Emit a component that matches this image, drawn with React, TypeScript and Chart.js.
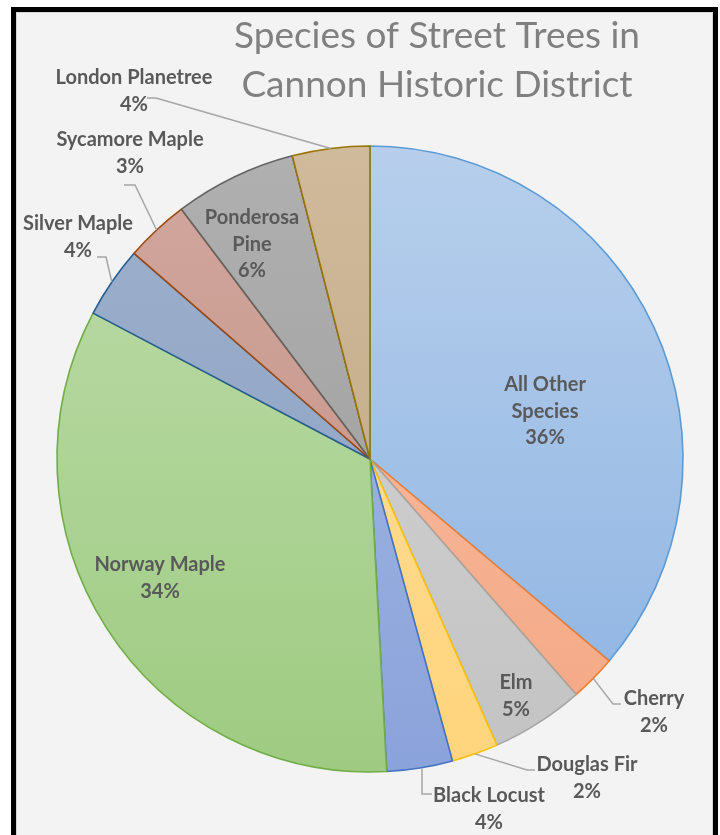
import React, { useEffect, useRef } from "react";
import { Chart, registerables } from "chart.js";

Chart.register(...registerables);

// ---------- data ----------
const TITLE_LINES = ["Species of Street Trees in", "Cannon Historic District"];
const SPECIES = [
  "All Other Species",
  "Cherry",
  "Elm",
  "Douglas Fir",
  "Black Locust",
  "Norway Maple",
  "Silver Maple",
  "Sycamore Maple",
  "Ponderosa Pine",
  "London Planetree",
];
const SHARES = [36.2, 2.4, 4.8, 2.4, 3.4, 33.6, 3.7, 3.3, 6.3, 4.0];
const PERCENT_LABELS = ["36%", "2%", "5%", "2%", "4%", "34%", "4%", "3%", "6%", "4%"];
const NAME_LINES = [
  ["All Other", "Species"],
  ["Cherry"],
  ["Elm"],
  ["Douglas Fir"],
  ["Black Locust"],
  ["Norway Maple"],
  ["Silver Maple"],
  ["Sycamore Maple"],
  ["Ponderosa", "Pine"],
  ["London Planetree"],
];

// ---------- styles ----------
const FILL_TOP = [
  "#b7cfec", "#f8c2aa", "#d6d6d6", "#ffe1a3", "#a8bbe6",
  "#bedcab", "#9db0cd", "#d1a79d", "#b0b0b0", "#cfba9b",
];
const FILL_BOTTOM = [
  "#8cb3e2", "#f4a783", "#c3c3c3", "#ffd47b", "#8aa3da",
  "#9ecb81", "#8ba0c1", "#c38f85", "#9a9a9a", "#bea57e",
];
const BORDERS = [
  "#5b9bd5", "#ed7d31", "#a5a5a5", "#ffc000", "#4472c4",
  "#70ad47", "#255e91", "#9e480e", "#636363", "#997300",
];

// label placement: x center, baseline of first line, optional leader (elbow, end)
type Place = { x: number; y: number; leader?: [number, number][]; anchorX?: number };
const PLACES: Place[] = [
  { x: 545, y: 391 },
  { x: 654, y: 705, leader: [[613, 704], [621, 704]] },
  { x: 516, y: 689 },
  { x: 587, y: 771, leader: [[527, 770], [535, 770]] },
  { x: 489, y: 802, leader: [[422, 794], [432, 794]], anchorX: 422 },
  { x: 160, y: 571 },
  { x: 78, y: 230, leader: [[106, 257], [97, 257]] },
  { x: 130, y: 146, leader: [[135, 185], [124, 185]] },
  { x: 252, y: 224 },
  { x: 134, y: 84, leader: [[156, 98], [147, 98]] },
];

const LABEL_FONT = "bold 20px Lato, 'Open Sans', sans-serif";
const TITLE_FONT = "37px Lato, 'Open Sans', sans-serif";

const labelPlugin = {
  id: "customLabels",
  afterDatasetsDraw(chart: any) {
    const ctx: CanvasRenderingContext2D = chart.ctx;
    const meta = chart.getDatasetMeta(0);
    ctx.save();
    // title
    ctx.font = TITLE_FONT;
    ctx.fillStyle = "#808080";
    ctx.textAlign = "center";
    ctx.textBaseline = "alphabetic";
    ctx.fillText(TITLE_LINES[0], 437, 48);
    ctx.fillText(TITLE_LINES[1], 437, 97);

    meta.data.forEach((arc: any, i: number) => {
      const p = PLACES[i];
      if (p.leader) {
        const mid = (arc.startAngle + arc.endAngle) / 2;
        let ax = arc.x + Math.cos(mid) * arc.outerRadius;
        const ay = arc.y + Math.sin(mid) * arc.outerRadius;
        if (p.anchorX !== undefined) ax = p.anchorX;
        ctx.beginPath();
        ctx.moveTo(ax, ay);
        p.leader.forEach(([lx, ly]) => ctx.lineTo(lx, ly));
        ctx.strokeStyle = "#a6a6a6";
        ctx.lineWidth = 1.5;
        ctx.stroke();
      }
      ctx.font = LABEL_FONT;
      ctx.fillStyle = "#595959";
      ctx.textAlign = "center";
      const lines = [...NAME_LINES[i], PERCENT_LABELS[i]];
      lines.forEach((t, k) => ctx.fillText(t, p.x, p.y + k * 26.5));
    });
    ctx.restore();
  },
};

export default function App() {
  const ref = useRef<HTMLCanvasElement | null>(null);
  useEffect(() => {
    if (!ref.current) return;
    const grad = (i: number) => (c: any) => {
      const chart = c.chart;
      const area = chart.chartArea;
      if (!area) return FILL_BOTTOM[i];
      const g = chart.ctx.createLinearGradient(0, area.top, 0, area.bottom);
      g.addColorStop(0, FILL_TOP[i]);
      g.addColorStop(1, FILL_BOTTOM[i]);
      return g;
    };
    const chart = new Chart(ref.current, {
      type: "pie",
      data: {
        labels: SPECIES,
        datasets: [
          {
            data: SHARES,
            backgroundColor: (c: any) => grad(c.dataIndex)(c),
            borderColor: BORDERS,
            borderWidth: 1.6,
          },
        ],
      },
      options: {
        responsive: false,
        animation: false,
        radius: 313,
        layout: { padding: { left: 57, right: 37, top: 146, bottom: 63 } },
        plugins: {
          legend: { display: false },
          title: { display: false },
          tooltip: { enabled: false },
        },
      } as any,
      plugins: [labelPlugin],
    });
    return () => chart.destroy();
  }, []);

  return (
    <div
      style={{
        position: "absolute",
        left: 0,
        top: 0,
        width: 720,
        height: 835,
        overflow: "hidden",
        background: "#ffffff",
      }}
    >
      <div
        style={{
          position: "absolute",
          left: 11,
          top: 7,
          width: 697,
          height: 860,
          border: "5px solid #000",
          background: "#f3f3f3",
          boxShadow: "inset 0 0 0 1px #d4d4d4",
        }}
      />
      <canvas
        ref={ref}
        width={720}
        height={835}
        style={{ position: "absolute", left: 0, top: 0, width: 720, height: 835 }}
      />
    </div>
  );
}
